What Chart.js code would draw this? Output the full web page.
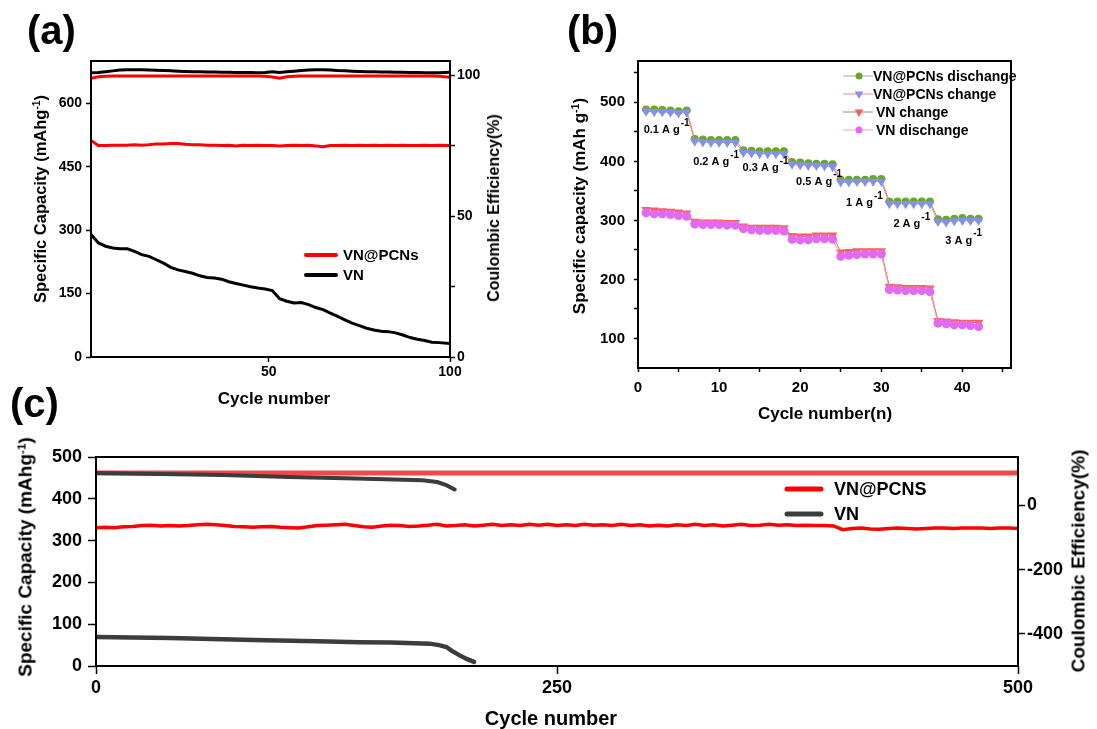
<!DOCTYPE html>
<html>
<head>
<meta charset="utf-8">
<script src="https://cdn.jsdelivr.net/npm/chart.js@4.4.1/dist/chart.umd.min.js"></script>
<style>
html,body{margin:0;padding:0;background:#fff;}
#fig{position:relative;width:1097px;height:729px;overflow:hidden;font-family:"Liberation Sans",Arial,sans-serif;font-weight:bold;color:#000;}
#fig canvas{position:absolute;}
.t{position:absolute;white-space:nowrap;line-height:1;transform:translate(-50%,-50%);}
.t.v{transform:translate(-50%,-50%) rotate(-90deg);}
.t sup{font-size:0.62em;vertical-align:0.55em;line-height:0;}
.panel{position:absolute;font-size:40px;line-height:1;}
</style>
</head>
<body>
<div id="fig">
  <canvas id="ca" width="560" height="400" style="left:0;top:0"></canvas>
  <canvas id="cb" width="537" height="400" style="left:560px;top:0"></canvas>
  <canvas id="cc" width="1097" height="329" style="left:0;top:400px"></canvas>

  <div class="panel" style="left:27px;top:10px">(a)</div>
  <div class="panel" style="left:567px;top:10px">(b)</div>
  <div class="panel" style="left:10px;top:383px">(c)</div>

  <div class="t v" style="left:40px;top:199px;font-size:16.5px">Specific Capacity (mAhg<sup>-1</sup>)</div>
  <div class="t v" style="left:494px;top:208px;font-size:16px">Coulombic Efficiency(%)</div>
  <div class="t" style="left:274px;top:398px;font-size:17px">Cycle number</div>

  <div class="t v" style="left:579px;top:206px;font-size:17px">Specific capacity (mAh g<sup>-1</sup>)</div>
  <div class="t" style="left:825px;top:413px;font-size:17px">Cycle number(n)</div>

  <div class="t v" style="left:25px;top:557px;font-size:19px">Specific Capacity (mAhg<sup>-1</sup>)</div>
  <div class="t v" style="left:1078px;top:561px;font-size:19px">Coulombic Efficiency(%)</div>
  <div class="t" style="left:551px;top:718px;font-size:20px">Cycle number</div>
</div>

<script>
// ---------- (a) cycling at a fixed rate, first 100 cycles ----------
const cyclesA = [1,3,5,7,9,11,13,15,17,19,21,23,25,27,29,31,33,35,37,39,41,43,45,47,49,51,53,55,57,59,61,63,65,67,69,71,73,75,77,79,81,83,85,87,89,91,93,95,97,100];
const capPCNsA = [512,500,500,501,501,501,502,501,502,504, 504,505,505,503,502,502,501,501,500,501, 499,501,500,501,500,500,499,500,501,500, 501,499,497,500,500,501,500,501,500,501, 500,501,500,501,500,500,501,500,501,500];
const capVNA = [290,270,262,258,256,256,250,242,238,230, 222,212,206,202,198,192,188,187,184,178, 174,170,166,163,161,157,138,132,128,129, 124,117,112,104,96,88,80,74,68,64, 61,60,57,52,46,42,39,35,34,32];
const cePCNsA = [98.9,99.4,99.6,99.7,99.7,99.7,99.7,99.7,99.7,99.7, 99.7,99.7,99.7,99.7,99.7,99.7,99.7,99.7,99.7,99.7, 99.7,99.7,99.7,99.7,99.6,99.3,98.9,99.4,99.6,99.7, 99.7,99.7,99.7,99.7,99.7,99.7,99.7,99.7,99.7,99.7, 99.7,99.7,99.7,99.7,99.7,99.7,99.7,99.7,99.6,99.2];
const ceVNA = [100.8,100.9,101.2,101.5,101.8,101.9,101.9,101.9,101.8,101.7, 101.6,101.5,101.4,101.3,101.2,101.2,101.1,101.1,101.0,101.0, 100.9,100.9,100.9,100.8,100.9,101.2,100.9,101.2,101.4,101.6, 101.8,101.9,101.9,101.8,101.6,101.5,101.4,101.3,101.2,101.2, 101.1,101.1,101.0,101.0,100.9,100.9,100.8,100.8,100.8,101.0];
const legendA = ['VN@PCNs', 'VN'];

// ---------- (b) rate capability ----------
const cyclesB = [1,2,3,4,5,6,7,8,9,10,11,12,13,14,15,16,17,18,19,20,21,22,23,24,25,26,27,28,29,30,31,32,33,34,35,36,37,38,39,40,41,42];
const pcnsDischargeB = [488,488,487,486,485,486, 438,437,436,436,436,436, 419,418,417,417,417,417, 399,398,397,396,396,395, 369,369,369,369,370,370, 332,332,332,332,332,332, 302,301,303,304,303,303];
const pcnsChargeB    = [485,484,484,483,482,483, 434,433,432,432,432,432, 415,414,413,413,413,413, 395,394,393,393,392,391, 365,365,366,366,366,366, 328,328,328,328,328,328, 298,297,299,300,300,300];
const vnChargeB      = [318,317,316,315,314,312, 298,297,297,297,296,296, 290,288,288,288,288,287, 274,273,273,275,275,275, 246,247,248,248,248,248, 188,187,186,186,186,185, 130,129,128,127,127,127];
const vnDischargeB   = [313,311,311,310,308,307, 294,293,293,293,292,292, 286,284,283,283,283,282, 268,267,267,269,269,268, 239,241,242,243,243,243, 183,182,181,181,181,179, 126,125,123,123,122,120];
const legendB = ['VN@PCNs dischange', 'VN@PCNs change', 'VN change', 'VN dischange'];
const rateLabelsB = ['0.1', '0.2', '0.3', '0.5', '1', '2', '3'];
// where each current-density note sits, in (cycle, capacity) units
const rateLabelAtB = [[0.7,452.7],[6.8,399.2],[12.9,389.1],[19.5,365.5],[25.65,329],[31.5,294.1],[37.9,265.9]];

// ---------- (c) long-term cycling, 500 cycles ----------
const cyclesC = [0,5,10,15,20,25,30,35,40,45,50,55,60,65,70,75,80,85,90,95,100,105,110,115,120,125,130,135,140,145,150,155,160,165,170,175,180,185,190,195,200,205,210,215,220,225,230,235,240,245,250,255,260,265,270,275,280,285,290,295,300,305,310,315,320,325,330,335,340,345,350,355,360,365,370,375,380,385,390,395,400,405,410,415,420,425,430,435,440,445,450,455,460,465,470,475,480,485,490,495,500];
const capPCNsC = [331,332,331,333,334,336,337,335,336,335, 336,338,339,338,336,334,333,332,333,334, 332,331,330,333,336,337,338,339,336,333, 332,335,337,336,334,335,337,339,335,336, 338,335,337,339,336,338,336,339,337,339, 336,338,336,339,337,338,336,339,336,338, 335,337,335,338,336,339,336,338,335,337, 339,336,337,339,337,338,336,337,336,336, 335,326,329,330,328,327,329,330,329,328, 329,330,330,329,330,330,330,329,330,330, 329];
const cyclesVNC = [0,40,80,92,120,143,160,181,186,190,193,197,201,205];
const capVNC = [69.5,67,63,61.5,59,57,56,53.5,50,45.5,36,26,17,10];
const cyclesCePCNsC = [0,250,500];
const cePCNsC = [100,100,100];
const cyclesCeVNC = [0,35,69,105,141,177,185,190,194.5];
const ceVNC = [100,97,94,87.5,83,78,72,62.5,49];
const legendC = ['VN@PCNS', 'VN'];

// ---------- shared helpers ----------
Chart.defaults.font.family = '"Liberation Sans", Arial, sans-serif';
Chart.defaults.font.weight = 'bold';
Chart.defaults.color = '#000';

const pts = (xs, ys) => xs.map((x, i) => ({x, y: ys[i]}));

function axis({position, min, max, ticks, labels, fit, fontSize, tickLen, pad = 2}) {
  return {
    type: 'linear', position, min, max,
    afterBuildTicks: s => { s.ticks = ticks.map(v => ({value: v})); },
    afterFit: s => { if (s.isHorizontal()) s.height = fit; else s.width = fit; },
    grid: {display: true, drawOnChartArea: false, drawTicks: true, tickLength: tickLen, tickColor: '#000', tickWidth: 1.5},
    border: {display: false},
    ticks: {autoSkip: false, maxRotation: 0, padding: pad, color: '#000',
      font: {size: fontSize, weight: 'bold'},
      callback: v => labels.includes(v) ? String(v) : ''}
  };
}

const framePlugin = {
  id: 'frame',
  afterDatasetsDraw(chart) {
    const {ctx, chartArea: a} = chart;
    ctx.save();
    ctx.strokeStyle = '#000';
    ctx.lineWidth = 2;
    ctx.strokeRect(a.left, a.top, a.right - a.left, a.bottom - a.top);
    ctx.restore();
  }
};

// simple line-swatch legend drawn inside the plot
function lineLegend(id, names, datasetIdx, x0, x1, xText, rows, fontSize, lw) {
  return {
    id,
    afterDraw(chart) {
      const ctx = chart.ctx;
      ctx.save();
      ctx.font = 'bold ' + fontSize + 'px "Liberation Sans", Arial, sans-serif';
      ctx.textBaseline = 'middle';
      ctx.fillStyle = '#000';
      names.forEach((name, i) => {
        const ds = chart.data.datasets[datasetIdx[i]];
        ctx.strokeStyle = ds.borderColor;
        ctx.lineWidth = lw;
        ctx.lineCap = 'round';
        ctx.beginPath();
        ctx.moveTo(x0, rows[i]);
        ctx.lineTo(x1, rows[i]);
        ctx.stroke();
        ctx.fillText(name, xText, rows[i] + 1);
      });
      ctx.restore();
    }
  };
}

const baseOpts = (padding) => ({
  responsive: false, animation: false, devicePixelRatio: 1,
  layout: {padding},
  plugins: {legend: {display: false}, tooltip: {enabled: false}},
  elements: {point: {radius: 0}, line: {tension: 0}}
});

// ---------- chart (a) ----------
new Chart(document.getElementById('ca'), {
  type: 'line',
  data: {datasets: [
    {label: legendA[0], data: pts(cyclesA, capPCNsA), yAxisID: 'y', borderColor: '#ff0000', borderWidth: 3, pointRadius: 0},
    {label: legendA[1], data: pts(cyclesA, capVNA), yAxisID: 'y', borderColor: '#000000', borderWidth: 3, pointRadius: 0},
    {label: legendA[0] + ' CE', data: pts(cyclesA, cePCNsA), yAxisID: 'y1', borderColor: '#ff0000', borderWidth: 3, pointRadius: 0, order: 0},
    {label: legendA[1] + ' CE', data: pts(cyclesA, ceVNA), yAxisID: 'y1', borderColor: '#000000', borderWidth: 3, pointRadius: 0, order: 1}
  ]},
  options: Object.assign(baseOpts({top: 61, left: 0, right: 0, bottom: 0}), {
    scales: {
      x: axis({position: 'bottom', min: 1, max: 100, ticks: [50, 100], labels: [50, 100], fit: 43, fontSize: 14, tickLen: 5}),
      y: axis({position: 'left', min: 0, max: 700, ticks: [0, 150, 300, 450, 600], labels: [0, 150, 300, 450, 600], fit: 91, fontSize: 14, tickLen: 5, pad: 4}),
      y1: axis({position: 'right', min: 0, max: 105, ticks: [0, 25, 50, 75, 100], labels: [0, 50, 100], fit: 110, fontSize: 14, tickLen: 5})
    }
  }),
  plugins: [framePlugin, lineLegend('legA', legendA, [0, 1], 306, 336, 343, [255, 275], 15, 4)]
});

// ---------- chart (b) ----------
const markerLegendB = {
  id: 'legB',
  afterDraw(chart) {
    const ctx = chart.ctx;
    const rows = [76, 94, 112, 130];
    const lineColors = ['#a8a8a8', '#f08a8a', '#8c8c8c', '#f4a6b4'];
    ctx.save();
    ctx.font = 'bold 14px "Liberation Sans", Arial, sans-serif';
    ctx.textBaseline = 'middle';
    legendB.forEach((name, i) => {
      const ds = chart.data.datasets.find(d => d.label === name);
      const y = rows[i];
      ctx.strokeStyle = lineColors[i];
      ctx.lineWidth = 1;
      ctx.beginPath(); ctx.moveTo(283, y); ctx.lineTo(313, y); ctx.stroke();
      ctx.fillStyle = ds.pointBackgroundColor;
      ctx.beginPath();
      if (ds.pointStyle === 'triangle') {
        const r = 5;
        ctx.moveTo(299 - r * 0.87, y - r * 0.5);
        ctx.lineTo(299 + r * 0.87, y - r * 0.5);
        ctx.lineTo(299, y + r);
      } else {
        ctx.arc(299, y, 3.5, 0, Math.PI * 2);
      }
      ctx.closePath();
      ctx.fill();
      ctx.fillStyle = '#000';
      ctx.fillText(name, i < 2 ? 313 : 316, y + 1);
    });
    ctx.restore();
  }
};

const rateNotesB = {
  id: 'rateNotes',
  afterDatasetsDraw(chart) {
    const {ctx, scales: {x, y}} = chart;
    ctx.save();
    ctx.fillStyle = '#000';
    ctx.textBaseline = 'middle';
    rateLabelsB.forEach((r, i) => {
      const px = x.getPixelForValue(rateLabelAtB[i][0]);
      const py = y.getPixelForValue(rateLabelAtB[i][1]);
      ctx.font = 'bold 11px "Liberation Sans", Arial, sans-serif';
      const main = r + ' A g';
      ctx.fillText(main, px, py);
      const w = ctx.measureText(main).width;
      ctx.font = 'bold 10px "Liberation Sans", Arial, sans-serif';
      ctx.fillText('-1', px + w + 1, py - 7);
    });
    ctx.restore();
  }
};

new Chart(document.getElementById('cb'), {
  type: 'line',
  data: {datasets: [
    {label: legendB[0], data: pts(cyclesB, pcnsDischargeB), borderColor: '#a0a0a0', borderWidth: 1,
     pointStyle: 'circle', pointRadius: 4, pointBackgroundColor: '#6aa628', pointBorderColor: '#6aa628', pointBorderWidth: 0, order: 3},
    {label: legendB[1], data: pts(cyclesB, pcnsChargeB), borderColor: '#f08080', borderWidth: 1,
     pointStyle: 'triangle', rotation: 180, pointRadius: 5.5, pointBackgroundColor: '#8191f2', pointBorderColor: '#8191f2', pointBorderWidth: 0, order: 2},
    {label: legendB[2], data: pts(cyclesB, vnChargeB), borderColor: '#f06060', borderWidth: 1,
     pointStyle: 'triangle', rotation: 180, pointRadius: 5.5, pointBackgroundColor: '#ff5c5c', pointBorderColor: '#ff5c5c', pointBorderWidth: 0, order: 1},
    {label: legendB[3], data: pts(cyclesB, vnDischargeB), borderColor: '#f4a0b0', borderWidth: 1,
     pointStyle: 'circle', pointRadius: 4.5, pointBackgroundColor: '#e26af2', pointBorderColor: '#e26af2', pointBorderWidth: 0, order: 0}
  ]},
  options: Object.assign(baseOpts({top: 61, left: 0, right: 86, bottom: 0}), {
    scales: {
      x: axis({position: 'bottom', min: 0, max: 46, ticks: [0, 5, 10, 15, 20, 25, 30, 35, 40, 45], labels: [0, 10, 20, 30, 40], fit: 32, fontSize: 15, tickLen: 4, pad: 7}),
      y: axis({position: 'left', min: 50, max: 570, ticks: [100, 150, 200, 250, 300, 350, 400, 450, 500, 550], labels: [100, 200, 300, 400, 500], fit: 78, fontSize: 15, tickLen: 4, pad: 9})
    }
  }),
  plugins: [framePlugin, rateNotesB, markerLegendB]
});

// ---------- chart (c) ----------
new Chart(document.getElementById('cc'), {
  type: 'line',
  data: {datasets: [
    {label: legendC[0], data: pts(cyclesC, capPCNsC), yAxisID: 'y', borderColor: '#ff0000', borderWidth: 3.5, pointRadius: 0, order: 2},
    {label: legendC[1], data: pts(cyclesVNC, capVNC), yAxisID: 'y', borderColor: '#3c3c3c', borderWidth: 4.5, pointRadius: 0, borderCapStyle: 'round', order: 1},
    {label: legendC[0] + ' CE', data: pts(cyclesCePCNsC, cePCNsC), yAxisID: 'y1', borderColor: '#f24848', borderWidth: 5, pointRadius: 0, order: 3},
    {label: legendC[1] + ' CE', data: pts(cyclesCeVNC, ceVNC), yAxisID: 'y1', borderColor: '#3c3c3c', borderWidth: 4, pointRadius: 0, borderCapStyle: 'round', order: 0}
  ]},
  options: Object.assign(baseOpts({top: 57, left: 0, right: 0, bottom: 0}), {
    scales: {
      x: axis({position: 'bottom', min: 0, max: 500, ticks: [0, 250, 500], labels: [0, 250, 500], fit: 63, fontSize: 18, tickLen: 8, pad: 3}),
      y: axis({position: 'left', min: 0, max: 500, ticks: [0, 100, 200, 300, 400, 500], labels: [0, 100, 200, 300, 400, 500], fit: 96, fontSize: 18, tickLen: 8, pad: 6}),
      y1: axis({position: 'right', min: -500, max: 150, ticks: [-400, -200, 0], labels: [-400, -200, 0], fit: 79, fontSize: 18, tickLen: 7})
    }
  }),
  plugins: [framePlugin, lineLegend('legC', legendC, [0, 1], 787, 821, 834, [89, 114], 18, 5)]
});
</script>
</body>
</html>
